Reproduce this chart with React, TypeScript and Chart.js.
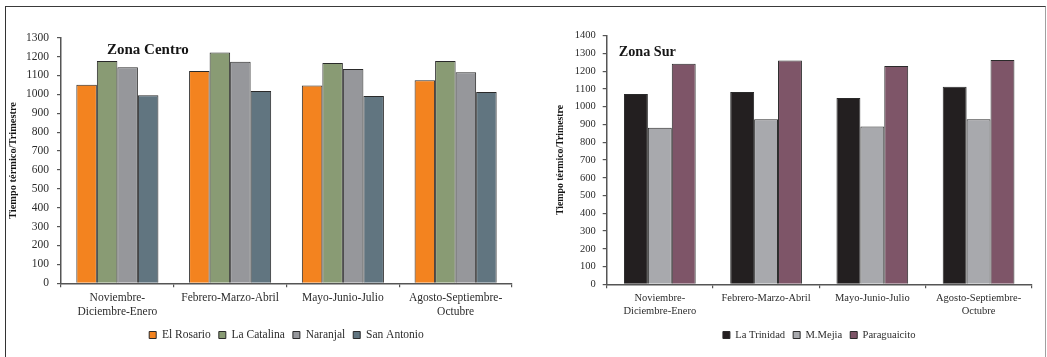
import React, { useEffect, useRef } from "react";
import { Chart, registerables } from "chart.js";

Chart.register(...registerables);

const SERIF = "'Liberation Serif', 'Times New Roman', Times, serif";

// Trimesters shown on both panels
const categories: (string | string[])[] = [
  ["Noviembre-", "Diciembre-Enero"],
  "Febrero-Marzo-Abril",
  "Mayo-Junio-Julio",
  ["Agosto-Septiembre-", "Octubre"],
];

// Zona Centro stations
const centroStations = ["El Rosario", "La Catalina", "Naranjal", "San Antonio"];
const centroColors = ["#F3831F", "#899B74", "#96979B", "#617580"];
const elRosario = [1051, 1124, 1047, 1075];
const laCatalina = [1176, 1221, 1166, 1176];
const naranjal = [1143, 1173, 1134, 1117];
const sanAntonio = [995, 1018, 991, 1012];
const centroTickMax = 1300;

// Zona Sur stations
const surStations = ["La Trinidad", "M.Mejia", "Paraguaicito"];
const surColors = ["#231F20", "#A8A9AD", "#7E5568"];
const laTrinidad = [1071, 1083, 1049, 1113];
const mMejia = [882, 929, 888, 929];
const paraguaicito = [1242, 1261, 1229, 1263];
const surTickMax = 1400;

const tickStep = 100;
const yAxisTitle = "Tiempo térmico/Trimestre";

// Bold zone caption drawn inside the plot area
const zoneLabel = {
  id: "zoneLabel",
  afterDatasetsDraw(chart: any, _args: any, opts: any) {
    const { ctx, chartArea } = chart;
    ctx.save();
    ctx.font = `bold ${opts.size}px ${SERIF}`;
    ctx.fillStyle = "#151515";
    ctx.textAlign = "left";
    ctx.textBaseline = "middle";
    ctx.fillText(opts.text, chartArea.left + opts.dx, chartArea.top + opts.dy);
    ctx.restore();
  },
};

type PanelSpec = {
  width: number;
  height: number;
  x: number;
  title: string;
  titleSize: number;
  titleDx: number;
  titleDy: number;
  stations: string[];
  colors: string[];
  series: number[][];
  yMax: number;
  padding: { top: number; left: number; right: number; bottom: number };
  yWidth: number;
  yTitleSize: number;
  yTitlePad: number;
  tickSize: number;
  tickPad: number;
  xHeight: number;
  xPad: number;
  legendSize: number;
  legendPad: number;
  catPct: number;
};

const AXIS = "#555555";
const TEXT = "#2c2c2c";

function Panel({ spec }: { spec: PanelSpec }) {
  const ref = useRef<HTMLCanvasElement | null>(null);

  useEffect(() => {
    if (!ref.current) return;
    const chart = new Chart(ref.current, {
      type: "bar",
      data: {
        labels: categories,
        datasets: spec.series.map((values, i) => ({
          label: spec.stations[i],
          data: values,
          backgroundColor: spec.colors[i],
          borderColor: "#2a2a2a",
          borderWidth: 1,
          barPercentage: 1,
          categoryPercentage: spec.catPct,
        })),
      },
      options: {
        responsive: false,
        animation: false,
        devicePixelRatio: 1,
        layout: { padding: spec.padding },
        scales: {
          x: {
            grid: {
              display: true,
              drawOnChartArea: false,
              drawTicks: true,
              tickLength: 4,
              color: AXIS,
              lineWidth: 1.2,
              offset: true,
            },
            border: { display: true, color: AXIS, width: 1.5 },
            ticks: {
              color: TEXT,
              padding: spec.xPad,
              maxRotation: 0,
              autoSkip: false,
              font: { family: SERIF, size: spec.tickSize, lineHeight: 1.2 },
            },
            afterFit: (scale: any) => {
              scale.height = spec.xHeight;
            },
          },
          y: {
            min: 0,
            max: spec.yMax,
            grid: {
              display: true,
              drawOnChartArea: false,
              drawTicks: true,
              tickLength: 4,
              color: AXIS,
              lineWidth: 1.2,
            },
            border: { display: true, color: AXIS, width: 1.5 },
            ticks: {
              stepSize: tickStep,
              color: TEXT,
              padding: spec.tickPad,
              font: { family: SERIF, size: spec.tickSize, lineHeight: 1.2 },
              callback: (value: any) => String(value),
            },
            title: {
              display: true,
              text: yAxisTitle,
              color: "#151515",
              padding: { top: spec.yTitlePad, bottom: 0 },
              font: { family: SERIF, size: spec.yTitleSize, weight: "bold", lineHeight: 1.2 },
            },
            afterFit: (scale: any) => {
              scale.width = spec.yWidth;
            },
          },
        },
        plugins: {
          legend: {
            display: true,
            position: "bottom",
            fullSize: false,
            labels: {
              boxWidth: 7,
              boxHeight: 7,
              padding: spec.legendPad,
              color: TEXT,
              font: { family: SERIF, size: spec.legendSize },
            },
          },
          tooltip: { enabled: false },
          zoneLabel: {
            text: spec.title,
            size: spec.titleSize,
            dx: spec.titleDx,
            dy: spec.titleDy,
          },
        } as any,
      },
      plugins: [zoneLabel],
    });
    return () => chart.destroy();
  }, [spec]);

  return (
    <canvas
      ref={ref}
      width={spec.width}
      height={spec.height}
      style={{
        position: "absolute",
        left: spec.x,
        top: 0,
        width: spec.width,
        height: spec.height,
      }}
    />
  );
}

const centroSpec: PanelSpec = {
  width: 530,
  height: 357,
  x: 0,
  title: "Zona Centro",
  titleSize: 15,
  titleDx: 46,
  titleDy: 12.8,
  stations: centroStations,
  colors: centroColors,
  series: [elRosario, laCatalina, naranjal, sanAntonio],
  yMax: centroTickMax,
  padding: { top: 37.7, left: 5, right: 18, bottom: 6.25 },
  yWidth: 56,
  yTitleSize: 10.4,
  yTitlePad: 2,
  tickSize: 11.5,
  tickPad: 8,
  xHeight: 38,
  xPad: 4,
  legendSize: 11.5,
  legendPad: 8,
  catPct: 0.728,
};

const surSpec: PanelSpec = {
  width: 517,
  height: 357,
  x: 530,
  title: "Zona Sur",
  titleSize: 14.2,
  titleDx: 12,
  titleDy: 16.8,
  stations: surStations,
  colors: surColors,
  series: [laTrinidad, mMejia, paraguaicito],
  yMax: surTickMax,
  padding: { top: 35.7, left: 20, right: 15.3, bottom: 6.7 },
  yWidth: 56.7,
  yTitleSize: 9.8,
  yTitlePad: 5,
  tickSize: 10.5,
  tickPad: 7,
  xHeight: 37.4,
  xPad: 4,
  legendSize: 10.6,
  legendPad: 8,
  catPct: 0.675,
};

export default function App() {
  return (
    <div
      style={{
        position: "fixed",
        left: 0,
        top: 0,
        width: 1047,
        height: 357,
        overflow: "hidden",
        background: "#ffffff",
      }}
    >
      <div
        style={{
          position: "absolute",
          left: 5,
          top: 6,
          width: 1039,
          height: 360,
          borderTop: "1.5px solid #3a3a3a",
          borderLeft: "1px solid #333333",
          borderRight: "1.5px solid #a0a0a0",
        }}
      />
      <Panel spec={centroSpec} />
      <Panel spec={surSpec} />
    </div>
  );
}
